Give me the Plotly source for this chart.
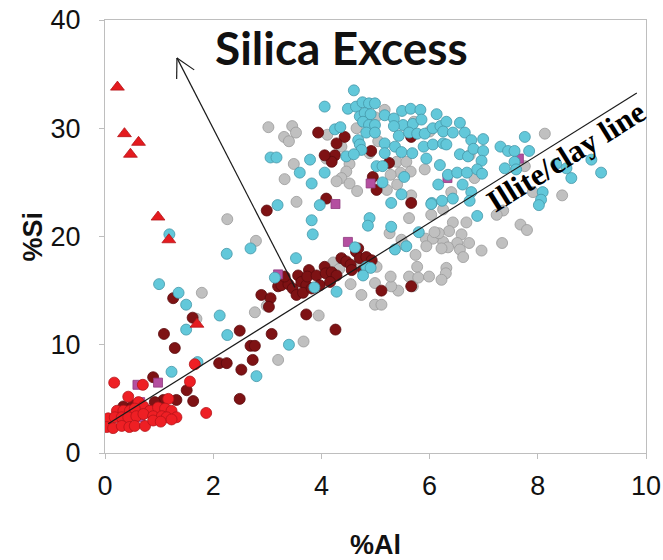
import math
import plotly.graph_objects as go

# ---- sample groups: %Al and %Si ----
grey_al = [3.02, 3.31, 3.40, 3.46, 3.53, 3.49, 3.32, 3.54, 4.11, 4.37, 4.09, 4.52, 4.46, 4.37, 4.28,
           4.52, 4.66, 4.65, 5.00, 4.89, 5.05, 5.39, 5.57, 5.65, 5.46, 5.28, 5.21, 5.40, 5.91, 5.66,
           5.71, 5.17, 6.00, 8.13, 6.83, 7.76, 7.91, 8.45, 6.74, 6.40,
           6.43, 6.68, 6.36, 6.59, 6.25, 6.51, 6.73, 6.34, 6.56, 6.62, 6.96, 7.34, 7.68, 7.80, 7.36,
           7.24, 6.31, 6.30, 6.22,
           5.62, 5.26, 5.48, 5.93, 6.06, 6.17, 5.94, 6.22, 5.74, 5.77, 5.62, 5.79, 5.99, 5.42, 5.29,
           5.69, 5.28, 4.99, 4.74, 4.54, 4.99, 5.11, 3.95, 4.68, 4.22, 4.33, 5.02,
           6.03, 6.25, 6.09, 5.54,
           2.26, 2.79, 1.79, 1.69, 2.77, 2.99, 3.20, 3.67]
grey_si = [30.1, 29.2, 28.8, 30.2, 29.6, 26.7, 25.3, 23.2, 29.4, 28.3, 27.2, 26.7, 26.0, 25.4, 25.1,
           24.9, 24.2, 30.0, 31.0, 27.7, 28.8, 26.9, 26.9, 26.0, 25.9, 25.7, 24.3, 24.8, 26.2, 23.8,
           30.6, 31.7, 29.7, 29.5, 25.4, 26.5, 24.1, 23.8, 27.5, 24.1,
           21.3, 21.3, 20.5, 20.2, 19.5, 19.4, 19.4, 19.0, 18.8, 18.1, 18.7, 19.4, 21.1, 20.6, 22.4,
           22.0, 17.1, 16.6, 16.0,
           21.7, 20.3, 19.7, 19.8, 19.8, 20.3, 19.1, 18.9, 18.3, 17.2, 16.3, 16.2, 16.3, 15.0, 15.4,
           15.4, 16.3, 15.7, 14.6, 15.6, 13.7, 13.7, 12.7, 17.4, 17.6, 17.0, 17.2,
           22.0, 22.5, 20.4, 19.2,
           21.6, 19.6, 14.8, 12.4, 13.0, 13.6, 8.6, 10.3]

darkred_al = [2.99, 3.94, 4.43, 4.28, 4.25, 4.19, 4.06, 4.09, 4.92, 5.66, 5.02, 5.66, 5.25, 4.95,
              5.11, 5.66, 3.72, 4.26, 2.89, 3.06, 3.03, 3.20,
              3.26, 3.39, 3.47, 3.57, 3.63, 3.72, 3.77, 3.74, 3.54, 3.66, 3.91, 3.97, 4.06, 4.08,
              4.19, 4.28, 4.37, 4.46, 4.54, 4.56, 4.64, 4.68, 4.71, 4.83, 4.77, 4.93, 3.32, 3.82, 4.16,
              1.26, 1.62, 1.09, 2.49, 1.29, 3.08, 2.69, 2.77, 2.73, 2.52, 2.49, 2.11, 2.25, 1.51,
              1.63, 0.89, 1.32, 1.08, 0.92, 0.34, 0.52, 0.25, 0.78]
darkred_si = [22.4, 29.6, 29.2, 28.6, 27.5, 26.9, 27.5, 23.5, 27.9, 23.1, 24.3, 29.2, 26.8, 25.5,
              15.0, 15.4, 12.8, 11.4, 14.6, 14.3, 13.5, 15.4,
              15.5, 15.6, 15.2, 16.4, 15.8, 15.5, 16.9, 16.3, 14.6, 14.8, 16.4, 15.5, 17.2, 16.6,
              16.7, 16.4, 18.0, 17.7, 17.4, 16.9, 18.6, 18.9, 18.0, 18.1, 16.9, 17.8, 16.3, 15.2, 15.8,
              14.3, 12.5, 11.0, 11.3, 9.7, 11.0, 9.9, 9.9, 8.6, 7.7, 5.0, 8.3, 8.3, 5.8,
              4.8, 7.0, 4.9, 4.9, 4.7, 4.3, 4.4, 3.6, 3.9]

purple_al = [0.60, 0.98, 0.65, 0.65, 3.20, 4.49, 4.26, 4.91, 6.33, 7.65]
purple_si = [6.3, 6.5, 4.7, 3.3, 16.5, 19.5, 23.0, 24.9, 25.4, 27.2]

cyan_al = [3.06, 3.17, 3.19, 3.60, 3.79, 3.82, 3.97, 4.06, 4.60, 4.25, 4.35, 4.46, 4.06,
           4.49, 4.64, 4.76, 4.88, 4.99, 4.71, 4.80, 4.91, 4.77, 4.88, 4.99, 4.83, 4.99, 4.68, 4.71,
           4.74, 4.60,
           5.17, 5.17, 5.02, 5.13, 5.17, 5.34, 5.49, 5.65, 5.83, 5.51, 5.69, 5.85, 5.34, 5.43, 5.62,
           5.77, 5.91, 6.06, 6.20, 6.31, 6.13, 5.36, 5.48, 5.68, 5.89, 6.06, 6.25, 5.94, 6.19, 5.53,
           5.13, 5.48, 5.29, 6.04, 6.23, 6.16, 6.34,
           6.56, 6.25, 6.43, 6.65, 6.31, 6.77, 6.99, 6.56, 6.71, 6.81, 6.99, 6.96, 6.51, 6.69, 6.88,
           6.97, 6.61, 6.77, 6.43, 7.31, 7.45, 7.57, 7.76, 7.84, 7.39, 7.57, 7.60, 8.34, 8.53, 8.62,
           8.99, 9.17, 8.09, 8.06, 8.02, 6.88, 6.74, 6.03,
           3.82, 3.84, 4.89, 4.86, 5.29, 5.80, 5.36, 5.57, 3.53, 4.62, 4.83, 4.91, 4.77, 3.14, 3.87,
           4.28,
           2.69, 2.25, 1.19, 1.00, 1.36, 1.50, 2.12, 1.50, 2.26, 3.40, 1.71, 1.23, 2.80]
cyan_si = [27.3, 27.3, 22.9, 25.9, 27.1, 24.9, 22.9, 32.0, 33.5, 29.9, 30.1, 27.4, 25.9,
           31.8, 32.0, 32.4, 32.3, 32.3, 31.1, 31.4, 31.3, 30.6, 30.3, 30.3, 29.6, 29.6, 28.9, 28.5,
           28.0, 27.6,
           28.6, 27.7, 26.5, 26.5, 31.2, 30.9, 31.6, 31.8, 31.7, 30.3, 30.4, 30.8, 30.2, 29.3, 29.6,
           29.5, 29.5, 30.0, 30.2, 30.6, 31.3, 28.3, 27.8, 27.7, 28.3, 28.5, 28.6, 27.2, 26.6, 25.5,
           25.0, 23.9, 23.1, 23.1, 23.3, 24.8, 25.7,
           30.5, 29.7, 29.6, 29.6, 28.5, 28.9, 29.0, 27.6, 27.4, 28.1, 27.9, 27.0, 25.9, 25.9, 26.2,
           25.8, 24.8, 24.1, 23.5, 28.3, 27.9, 27.9, 29.2, 27.9, 26.3, 26.9, 26.2, 26.7, 26.3, 25.4,
           27.1, 25.9, 24.1, 23.4, 22.9, 21.9, 23.3, 23.0,
           21.5, 20.2, 21.7, 21.0, 20.9, 20.4, 18.8, 19.1, 18.0, 19.0, 17.2, 17.1, 16.4, 16.2, 15.3,
           14.9,
           18.9, 18.4, 20.2, 15.6, 14.8, 13.7, 12.7, 11.4, 10.9, 10.0, 8.4, 7.5, 7.1]

red_al = [0.17, 0.70, 0.43, 1.17, 1.66, 1.57, 1.87, 0.62, 0.71, 0.22, 0.34, 0.46, 0.55, 0.83,
          0.98, 1.11, 1.23, 0.06, 0.18, 0.31, 0.43, 0.58, 0.71, 0.89, 1.05, 1.14, 1.32, 0.03,
          0.15, 0.31, 0.45, 0.55, 0.74, 0.89, 1.03, 1.23]
red_si = [6.5, 6.3, 5.2, 5.0, 8.2, 6.6, 3.7, 4.7, 4.3, 3.9, 3.9, 3.9, 4.1, 3.9,
          4.2, 4.1, 3.9, 3.2, 3.3, 3.3, 3.3, 3.4, 3.6, 3.4, 3.4, 3.3, 3.3, 2.4,
          2.3, 2.5, 2.4, 2.5, 2.5, 3.0, 2.9, 3.1]

tri_al = [0.23, 0.36, 0.62, 0.47, 0.98, 1.18, 1.70]
tri_si = [33.8, 29.5, 28.7, 27.6, 21.8, 19.7, 11.9]

# reference line and silica-excess arrow (data units)
illite_al = [0.06, 9.83]
illite_si = [2.7, 33.25]
arrow_tail = (3.51, 15.3)
arrow_tip = (1.33, 36.5)

x_ticks = [0, 2, 4, 6, 8, 10]
y_ticks = [0, 10, 20, 30, 40]

# ---- layout geometry ----
W, H = 663, 560
M_L, M_R, M_T, M_B = 105, 17, 20, 107
X_RANGE, Y_RANGE = [0, 10], [0, 40]
plot_w = W - M_L - M_R
plot_h = H - M_T - M_B
px_x = plot_w / (X_RANGE[1] - X_RANGE[0])
px_y = plot_h / (Y_RANGE[1] - Y_RANGE[0])

fig = go.Figure()


def add_group(xs, ys, fill, edge, symbol="circle", size=11):
    fig.add_trace(go.Scatter(
        x=xs, y=ys, mode="markers", showlegend=False, hoverinfo="skip",
        marker=dict(symbol=symbol, size=size, color=fill,
                    line=dict(color=edge, width=0.8)),
    ))


add_group(grey_al, grey_si, "#C0C0C0", "#9A9A9A")
add_group(darkred_al, darkred_si, "#7E1214", "#5A0A0C")
add_group(purple_al, purple_si, "#B44FA0", "#8E3A7E", symbol="square", size=9)
add_group(cyan_al, cyan_si, "#62C8DA", "#4597A8")
add_group(red_al, red_si, "#EE1F24", "#B51419")
add_group(tri_al, tri_si, "#E41B1F", "#B51419", symbol="triangle-up", size=12)

# Illite/clay reference line
fig.add_trace(go.Scatter(x=illite_al, y=illite_si, mode="lines", showlegend=False,
                         hoverinfo="skip", line=dict(color="#1a1a1a", width=1.2)))

# Arrow shaft plus an open "V" head, barbs laid out in screen pixels
tx, ty = arrow_tip
dx_px = (arrow_tail[0] - tx) * px_x
dy_px = -(arrow_tail[1] - ty) * px_y  # screen y grows downward
ang = math.atan2(dy_px, dx_px)
barb_len, spread = 21, math.radians(28)
head_x, head_y = [], []
for s in (-1, 1):
    a = ang + s * spread
    head_x += [tx + barb_len * math.cos(a) / px_x, tx, None]
    head_y += [ty - barb_len * math.sin(a) / px_y, ty, None]
fig.add_trace(go.Scatter(x=[arrow_tail[0], tx, None] + head_x,
                         y=[arrow_tail[1], ty, None] + head_y,
                         mode="lines", showlegend=False, hoverinfo="skip",
                         line=dict(color="#1a1a1a", width=1.2)))

fig.add_annotation(x=4.37, y=37.5, xref="x", yref="y", text="<b>Silica Excess</b>",
                   showarrow=False, font=dict(family="Lato, Carlito, Open Sans", size=46,
                                              color="#111111"))
fig.add_annotation(x=8.52, y=27.4, xref="x", yref="y", text="<b>Illite/clay line</b>",
                   showarrow=False, textangle=-32,
                   font=dict(family="Liberation Serif, Times New Roman, serif", size=31,
                             color="#000000"))

# axis titles, offsets given in pixels from the plot area edges
title_font = dict(family="Liberation Sans, Arial", size=27, color="#111111")
fig.add_annotation(x=0.5, y=-92 / plot_h, xref="paper", yref="paper",
                   xanchor="center", yanchor="middle", text="<b>%Al</b>",
                   showarrow=False, font=title_font)
fig.add_annotation(x=-73 / plot_w, y=0.5, xref="paper", yref="paper",
                   xanchor="center", yanchor="middle", text="<b>%Si</b>",
                   showarrow=False, textangle=-90, font=title_font)

tick_font = dict(family="Liberation Sans Narrow, Arial Narrow, Liberation Sans, Arial",
                 size=27, color="#111111")
axis_common = dict(showgrid=False, zeroline=False, showline=True, linecolor="#BEBEBE",
                   linewidth=1, mirror=True, ticks="outside", ticklen=5,
                   tickcolor="#BEBEBE", tickfont=tick_font, automargin=False)

fig.update_layout(
    width=W, height=H,
    margin=dict(l=M_L, r=M_R, t=M_T, b=M_B),
    paper_bgcolor="white", plot_bgcolor="white",
    xaxis=dict(range=X_RANGE, tickvals=x_ticks, ticktext=[str(v) for v in x_ticks],
               ticklabelstandoff=4, **axis_common),
    yaxis=dict(range=Y_RANGE, tickvals=y_ticks, ticktext=[str(v) for v in y_ticks],
               ticklabelstandoff=13, **axis_common),
)

fig.write_html("out.html")
